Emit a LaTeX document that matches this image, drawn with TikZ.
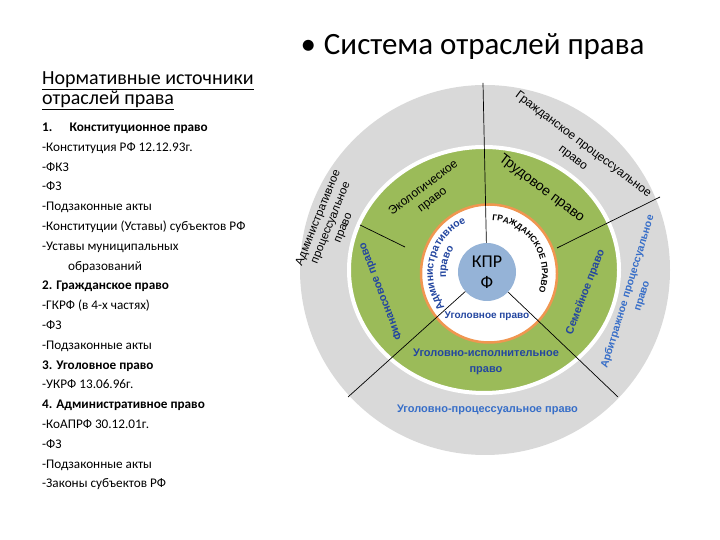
\documentclass[tikz,border=0pt]{standalone}
\usepackage{fontspec}
\setmainfont{Carlito}
\newfontfamily\arialfont{Liberation Sans}
\usetikzlibrary{positioning, calc, decorations.text}

\definecolor{ringgrey}{RGB}{217,217,217}
\definecolor{ringgreen}{RGB}{155,187,89}
\definecolor{ringorange}{RGB}{240,150,80}
\definecolor{coreblue}{RGB}{149,179,215}
\definecolor{lawblue}{RGB}{35,70,160}
\definecolor{lawlight}{RGB}{55,110,200}

\newcommand\civilfont{\arialfont\bfseries\fontsize{8.5}{10}\selectfont}
\newcommand\adminfont{\arialfont\bfseries\fontsize{10.5}{12}\selectfont}

\begin{document}
\begin{tikzpicture}[x=1pt, y=1pt,
    ringtext/.style={font=\arialfont\fontsize{12}{15}\selectfont, align=center, inner sep=0pt},
    bluetext/.style={ringtext, font=\arialfont\bfseries\fontsize{11}{15}\selectfont, text=lawblue},
    curved/.style={decorate, decoration={text along path, text align=center}},
    spoke/.style={draw=black, line width=0.7pt},
  ]
  \useasboundingbox (0,0) rectangle (720,540);

  % left column
  \node[anchor=base west, font=\fontsize{31}{34}\selectfont] (title) at (297,485) {\textbullet\hspace{8pt}Система отраслей права};
  \node[anchor=base west, align=left, font=\fontsize{20}{20}\selectfont, inner sep=0pt] (heading) at (42,435)
    {\underline{Нормативные источники}\\\underline{отраслей права}};
  \node[anchor=base west, align=left, font=\fontsize{13.2}{19.8}\selectfont, inner sep=0pt] (sources) at (42,52) {%
    \textbf{1.\hspace{1.3em}Конституционное право}\\
    -Конституция РФ 12.12.93г.\\
    -ФКЗ\\
    -ФЗ\\
    -Подзаконные акты\\
    -Конституции (Уставы) субъектов РФ\\
    -Уставы муниципальных\\
    \hspace*{26pt}образований\\
    \textbf{2. Гражданское право}\\
    -ГКРФ (в 4-х частях)\\
    -ФЗ\\
    -Подзаконные акты\\
    \textbf{3. Уголовное право}\\
    -УКРФ 13.06.96г.\\
    \textbf{4. Административное право}\\
    -КоАПРФ 30.12.01г.\\
    -ФЗ\\
    -Подзаконные акты\\
    -Законы субъектов РФ};

  % rings
  \coordinate (c) at (485,270);
  \coordinate (inner) at (489,266.5);
  \fill[ringgrey] (c) circle (185);
  \filldraw[fill=ringgreen, draw=white, line width=4pt] (484,270) ellipse [x radius=135, y radius=123];
  \filldraw[fill=white, draw=ringorange, line width=2.5pt] (inner) ellipse [x radius=68, y radius=69];
  \node[circle, fill=coreblue, minimum size=58pt, inner sep=0pt, align=center,
    font=\fontsize{18}{21}\selectfont] (kprf) at (487,268) {КПР\\Ф};

  % spokes
  \coordinate (top) at (483,457);
  \coordinate (lowleft) at (348,143);
  \coordinate (lowright) at (618,143);
  \coordinate (upright) at (660,343);
  \coordinate (uprightin) at (557,292);
  \coordinate (upleft) at (360,315);
  \coordinate (upleftin) at (405,293);
  \draw[spoke] (kprf) -- (top);
  \draw[spoke] (kprf) -- (lowleft);
  \draw[spoke] (kprf) -- (lowright);
  \draw[spoke] (uprightin) -- (upright);
  \draw[spoke] (upleft) -- (upleftin);

  % outer ring
  \node[ringtext, rotate=-37, font=\arialfont\fontsize{12}{17}\selectfont] (civilproc) at (578,388.5) {Гражданское процессуальное\\право};
  \node[ringtext, rotate=68, font=\arialfont\fontsize{11.5}{13.5}\selectfont] (adminproc) at (331,317) {Административное\\процессуальное\\право};
  \node[bluetext, rotate=73, text=lawlight, font=\arialfont\bfseries\fontsize{10.5}{15}\selectfont] (arbproc) at (635,246) {Арбитражное процессуальное\\право};
  \node[bluetext, text=lawlight] (crimproc) at (487.5,130) {Уголовно-процессуальное право};

  % middle ring
  \node[ringtext, rotate=37] (eco) at (428,346) {Экологическое\\право};
  \node[ringtext, rotate=-37, font=\arialfont\fontsize{14}{16}\selectfont] (labour) at (541.5,351.5) {Трудовое право};
  \node[bluetext, rotate=69] (family) at (585.5,248) {Семейное право};
  \node[bluetext, rotate=111] (finance) at (381,248.5) {Финансовое право};
  \node[bluetext, font=\arialfont\bfseries\fontsize{11}{16}\selectfont] (penal) at (486,178) {Уголовно-исполнительное\\право};

  % inner ring
  \node[bluetext, font=\arialfont\bfseries\fontsize{10}{12}\selectfont] (criminal) at (487,224) {Уголовное право};
  \path[curved, decoration={text={|\civilfont|ГРАЖДАНСКОЕ ПРАВО}}]
    ($(inner)+(95:53)$) arc[start angle=95, end angle=-29, radius=53];
  \path[curved, decoration={text color=lawblue, text={|\adminfont|Административное}}]
    ($(inner)+(255:56)$) arc[start angle=255, end angle=77, radius=56];
  \path[curved, decoration={text color=lawblue, text={|\adminfont|право}}]
    ($(inner)+(225:43)$) arc[start angle=225, end angle=105, radius=43];
\end{tikzpicture}
\end{document}
